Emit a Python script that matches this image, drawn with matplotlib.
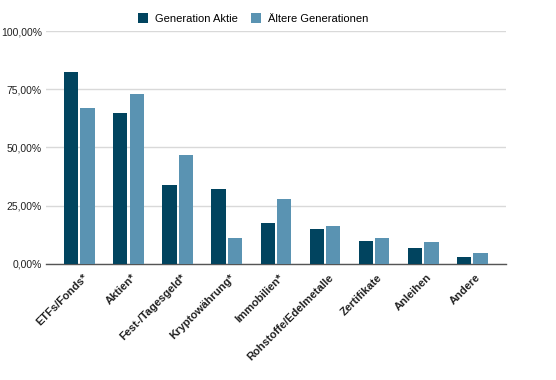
import numpy as np
import matplotlib.pyplot as plt
import matplotlib.transforms as mtransforms
from matplotlib.ticker import FuncFormatter

# Data (percent)
categories = ['ETFs/Fonds*', 'Aktien*', 'Fest-/Tagesgeld*', 'Kryptowährung*', 'Immobilien*',
              'Rohstoffe/Edelmetalle', 'Zertifikate', 'Anleihen', 'Andere']
gen_aktie = [82.3, 64.9, 33.7, 32.0, 17.6, 14.8, 9.8, 6.9, 3.0]
aeltere = [67.0, 72.8, 46.8, 10.9, 27.9, 16.3, 10.9, 9.3, 4.7]
series_names = ['Generation Aktie', 'Ältere Generationen']
colors = ['#01445f', '#5a93b2']

plt.rcParams['font.family'] = ['Liberation Sans', 'DejaVu Sans']

fig = plt.figure(figsize=(5.56, 3.8), dpi=100)
ax = fig.add_axes([0.0827, 0.306, 0.827, 0.612])

x = np.arange(len(categories))
w = 0.29
ax.bar(x - 0.167, gen_aktie, width=w, color=colors[0], label=series_names[0], zorder=3)
ax.bar(x + 0.167, aeltere, width=w, color=colors[1], label=series_names[1], zorder=3)

ax.set_xlim(-0.68, len(categories) - 1 + 0.68)
ax.set_ylim(0, 100)
ax.set_yticks([0, 25, 50, 75, 100])
ax.yaxis.set_major_formatter(FuncFormatter(lambda v, p: f"{v:.2f}%".replace('.', ',')))
ax.grid(axis='y', color='#d9d9d9', linewidth=1, zorder=0)
for s in ['top', 'right', 'left']:
    ax.spines[s].set_visible(False)
ax.spines['bottom'].set_color('#555555')
ax.spines['bottom'].set_linewidth(1)
ax.tick_params(axis='both', length=0, colors='#222222')
ax.tick_params(axis='y', pad=3, labelsize=7.5)
ax.tick_params(axis='x', pad=6, labelsize=8)

ax.set_xticks(x)
ax.set_xticklabels(categories, rotation=45, ha='right', rotation_mode='anchor',
                   fontweight='bold', fontsize=8)
# nudge the rotated labels a little to the right, like the original
shift = mtransforms.ScaledTranslation(3 / 100, 0, fig.dpi_scale_trans)
for lbl in ax.get_xticklabels():
    lbl.set_transform(lbl.get_transform() + shift)

fig.legend(loc='center', bbox_to_anchor=(0.455, 0.951), ncol=2, frameon=False,
           fontsize=8, handlelength=0.9, handleheight=0.9, columnspacing=1.2,
           handletextpad=0.6)

fig.savefig('out.png', dpi=100)
